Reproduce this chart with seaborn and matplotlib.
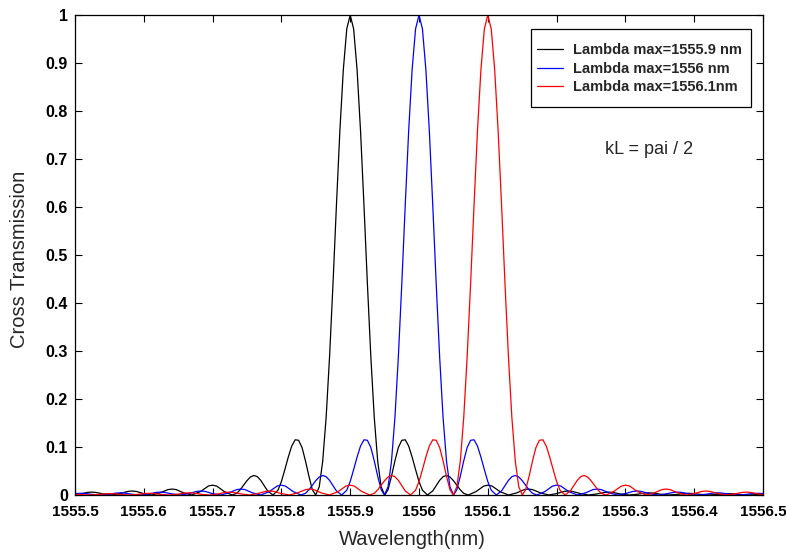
import numpy as np
import pandas as pd
import matplotlib
matplotlib.use("Agg")
import matplotlib.pyplot as plt
from matplotlib.patches import Rectangle
import seaborn as sns

# ---- data ----
series_labels = ["Lambda max=1555.9 nm", "Lambda max=1556 nm", "Lambda max=1556.1nm"]
peak_wavelengths = [1555.9, 1556.0, 1556.1]
series_colors = ["#000000", "#0000ff", "#ff0000"]

# one-sided transmission profile (offset from peak in nm, value), same for all three curves
profile_offset_nm = [
    0, 0.005, 0.01, 0.015, 0.02, 0.025, 0.03, 0.035, 0.04, 0.045, 0.0502,
    0.055, 0.06, 0.065, 0.07, 0.075, 0.08, 0.085, 0.09, 0.095, 0.1, 0.105, 0.1123,
    0.12, 0.125, 0.13, 0.135, 0.14, 0.145, 0.15, 0.155, 0.16, 0.165, 0.1716,
    0.183, 0.194, 0.200, 0.206, 0.218, 0.2302,
    0.242, 0.253, 0.259, 0.265, 0.277, 0.2885,
    0.300, 0.311, 0.317, 0.323, 0.335, 0.3468,
    0.358, 0.370, 0.376, 0.382, 0.393, 0.4050,
    0.417, 0.428, 0.434, 0.440, 0.452, 0.4631,
    0.475, 0.486, 0.492, 0.498, 0.510, 0.5212,
    0.533, 0.545, 0.550, 0.556, 0.568, 0.5793,
    0.591, 0.603, 0.608, 0.614, 0.626, 0.6373,
]
profile_T = [
    1, 0.971, 0.886, 0.759, 0.604, 0.440, 0.288, 0.161, 0.070, 0.017, 0,
    0.011, 0.039, 0.071, 0.099, 0.114, 0.115, 0.102, 0.079, 0.053, 0.028, 0.010, 0,
    0.0085, 0.0196, 0.0305, 0.0382, 0.0407, 0.0375, 0.0300, 0.0202, 0.0107, 0.0035, 0,
    0.0072, 0.0185, 0.0205, 0.0188, 0.0068, 0,
    0.0044, 0.0113, 0.0124, 0.0112, 0.0042, 0,
    0.0029, 0.0075, 0.0083, 0.0075, 0.0028, 0,
    0.0021, 0.0054, 0.0060, 0.0054, 0.0020, 0,
    0.0015, 0.0041, 0.0045, 0.0040, 0.0015, 0,
    0.0012, 0.0032, 0.0035, 0.0031, 0.0012, 0,
    0.0010, 0.0025, 0.0028, 0.0025, 0.0009, 0,
    0.0008, 0.0021, 0.0023, 0.0020, 0.0008, 0,
]

x_ticks = [1555.5, 1555.6, 1555.7, 1555.8, 1555.9, 1556.0, 1556.1, 1556.2, 1556.3, 1556.4, 1556.5]
x_tick_labels = ["1555.5", "1555.6", "1555.7", "1555.8", "1555.9", "1556",
                 "1556.1", "1556.2", "1556.3", "1556.4", "1556.5"]
y_ticks = [0, 0.1, 0.2, 0.3, 0.4, 0.5, 0.6, 0.7, 0.8, 0.9, 1.0]
y_tick_labels = ["0", "0.1", "0.2", "0.3", "0.4", "0.5", "0.6", "0.7", "0.8", "0.9", "1"]

# ---- build long table ----
off = np.array(profile_offset_nm)
val = np.array(profile_T)
full_off = np.concatenate([-off[:0:-1], off])
full_val = np.concatenate([val[:0:-1], val])
rows = []
for lab, c in zip(series_labels, peak_wavelengths):
    for o, v in zip(full_off, full_val):
        rows.append((lab, c + o, v))
df = pd.DataFrame(rows, columns=["series", "wavelength", "T"])

# ---- style ----
sns.set_theme(style="ticks")
plt.rcParams["font.family"] = ["Liberation Sans", "DejaVu Sans"]

fig = plt.figure(figsize=(7.86, 5.54), dpi=100)
ax = fig.add_axes([75 / 786, 1 - 495 / 554, 688 / 786, 480 / 554])

sns.lineplot(data=df, x="wavelength", y="T", hue="series", hue_order=series_labels,
             palette=series_colors, estimator=None, sort=False, linewidth=0.9, ax=ax)

ax.set_xlim(1555.5, 1556.5)
ax.set_ylim(0, 1)
ax.set_xticks(x_ticks)
ax.set_xticklabels(x_tick_labels, fontsize=11, fontweight="bold")
ax.set_yticks(y_ticks)
ax.set_yticklabels(y_tick_labels, fontsize=11.5, fontweight="bold")
ax.tick_params(axis="x", pad=7)
ax.tick_params(axis="y", pad=5)
ax.tick_params(direction="in", length=5, width=0.8, top=True, right=True,
               colors="black")
for sp in ax.spines.values():
    sp.set_visible(True)
    sp.set_color("black")
    sp.set_linewidth(0.9)

ax.set_xlabel("Wavelength(nm)", fontsize=14.5)
ax.set_ylabel("Cross Transmission", fontsize=14.5)
ax.xaxis.set_label_coords(0.49, -0.072)
ax.yaxis.set_label_coords(-0.067, 0.49)

ax.text(1556.334, 0.719, "kL = pai / 2", fontsize=13, ha="center", va="center")

# legend entries (frameless) + a box matching the reference frame
leg = ax.legend(loc="upper left", bbox_to_anchor=(537 / 786, 1 - 43 / 554),
                bbox_transform=fig.transFigure, fontsize=10.5, frameon=False,
                handlelength=1.75, handletextpad=0.7, borderpad=0,
                labelspacing=0.32, borderaxespad=0)
for t in leg.get_texts():
    t.set_fontweight("bold")
for h in leg.get_lines():
    h.set_linewidth(0.9)
fig.patches.append(Rectangle((531 / 786, 1 - 107 / 554), 220 / 786, 78 / 554,
                             transform=fig.transFigure, fill=True, facecolor="none",
                             edgecolor="black", linewidth=0.9, zorder=5))

fig.savefig("out.png", dpi=100, facecolor="white")
